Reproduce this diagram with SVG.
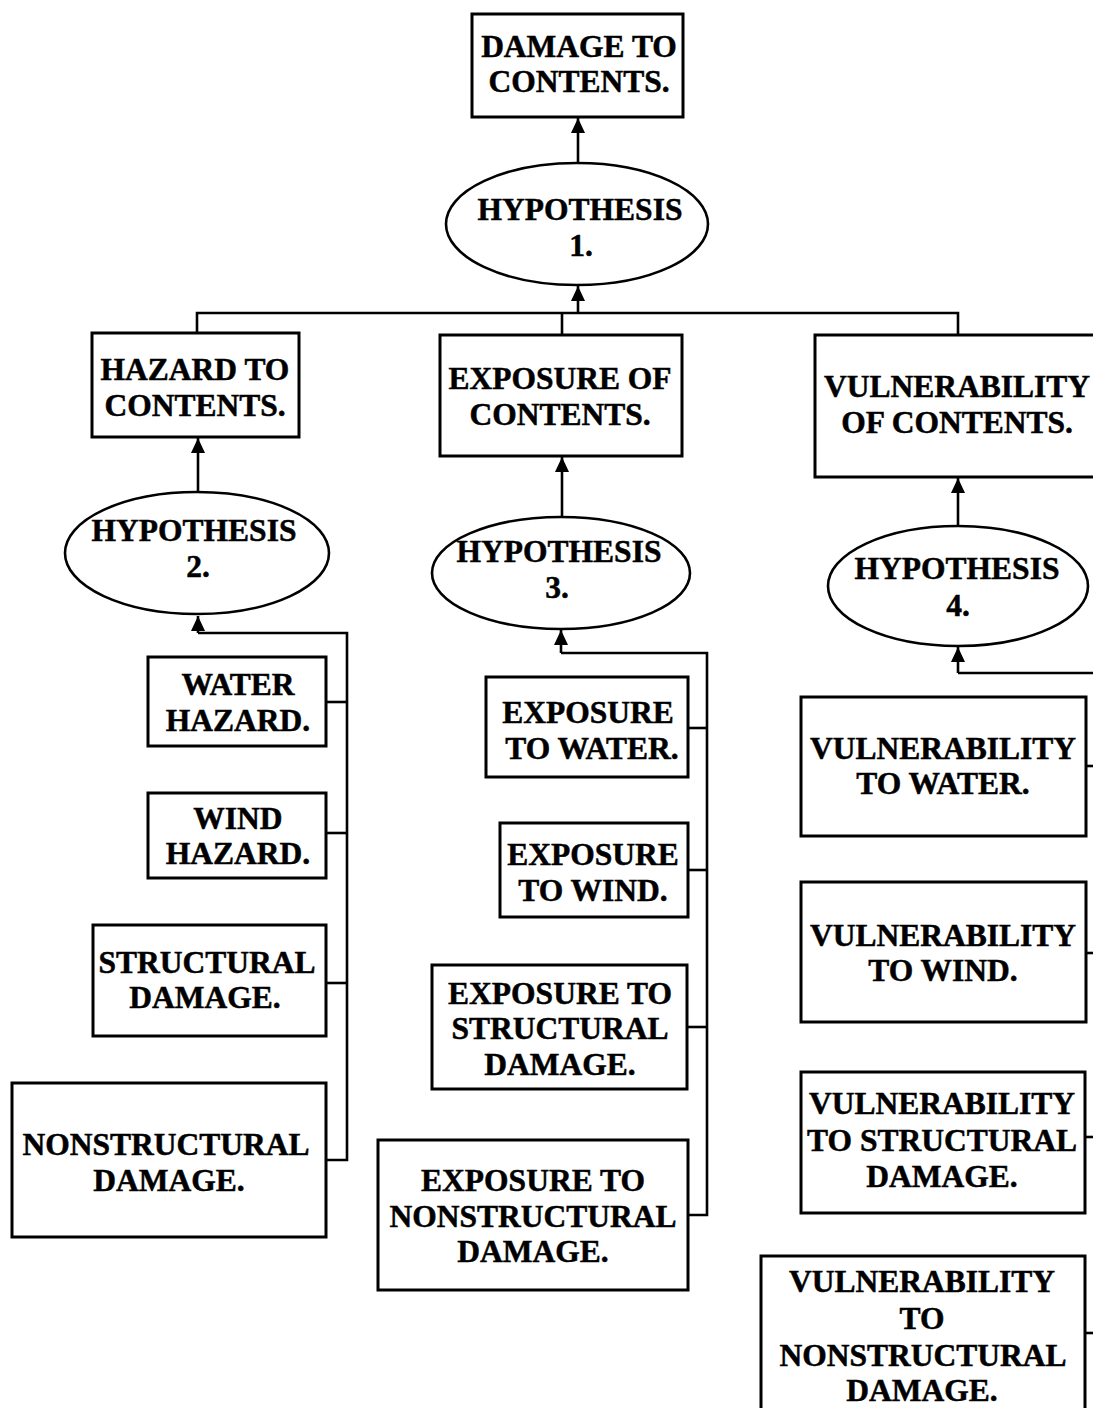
<svg xmlns="http://www.w3.org/2000/svg" width="1093" height="1408" viewBox="0 0 1093 1408">
  <defs>
    <marker id="arrow" markerUnits="userSpaceOnUse" markerWidth="15" markerHeight="16" refX="15" refY="7" orient="auto">
      <path d="M0,0 L15,7 L0,14 Z" fill="#000"/>
    </marker>
    <style>
      .box { fill: #fff; stroke: #000; stroke-width: 3; }
      .ell { fill: #fff; stroke: #000; stroke-width: 2.6; }
      .wire { fill: none; stroke: #000; stroke-width: 2.6; }
      .arr { fill: none; stroke: #000; stroke-width: 2.6; marker-end: url(#arrow); }
      text { font-family: "Liberation Serif", "Times New Roman", serif; font-weight: bold; font-size: 31.5px; text-anchor: middle; fill: #000; stroke: #000; stroke-width: 0.5; }
    </style>
  </defs>

  <!-- connectors -->
  <g id="connectors">
    <!-- top level -->
    <line class="arr" x1="578" y1="163" x2="578" y2="118"/>
    <polyline class="wire" points="197,333 197,313 958,313 958,335"/>
    <line class="wire" x1="562" y1="313" x2="562" y2="335"/>
    <line class="arr" x1="578" y1="313" x2="578" y2="286"/>

    <!-- hazard branch -->
    <line class="arr" x1="198" y1="492" x2="198" y2="438"/>
    <polyline class="wire" points="198,633 347,633 347,1160 326,1160"/>
    <line class="arr" x1="198" y1="633" x2="198" y2="616"/>
    <line class="wire" x1="326" y1="702" x2="347" y2="702"/>
    <line class="wire" x1="326" y1="833" x2="347" y2="833"/>
    <line class="wire" x1="326" y1="983" x2="347" y2="983"/>

    <!-- exposure branch -->
    <line class="arr" x1="562" y1="518" x2="562" y2="457"/>
    <polyline class="wire" points="561,653 707,653 707,1215 688,1215"/>
    <line class="arr" x1="561" y1="653" x2="561" y2="630"/>
    <line class="wire" x1="688" y1="728" x2="707" y2="728"/>
    <line class="wire" x1="688" y1="870" x2="707" y2="870"/>
    <line class="wire" x1="687" y1="1027" x2="707" y2="1027"/>

    <!-- vulnerability branch -->
    <line class="arr" x1="958" y1="526" x2="958" y2="478"/>
    <polyline class="wire" points="958,673 1100,673 1100,1333"/>
    <line class="arr" x1="958" y1="673" x2="958" y2="647"/>
    <line class="wire" x1="1086" y1="766" x2="1100" y2="766"/>
    <line class="wire" x1="1086" y1="953" x2="1100" y2="953"/>
    <line class="wire" x1="1085" y1="1137" x2="1100" y2="1137"/>
    <line class="wire" x1="1085" y1="1333" x2="1100" y2="1333"/>
  </g>

  <!-- top -->
  <g id="damage-to-contents">
    <rect class="box" x="472" y="14" width="211" height="103"/>
    <text x="579" y="57">DAMAGE TO</text>
    <text x="579" y="92">CONTENTS.</text>
  </g>
  <g id="hypothesis-1">
    <ellipse class="ell" cx="577" cy="224" rx="131" ry="61"/>
    <text x="580" y="220">HYPOTHESIS</text>
    <text x="581" y="256">1.</text>
  </g>

  <!-- hazard column -->
  <g id="hazard-to-contents">
    <rect class="box" x="92" y="333" width="207" height="104"/>
    <text x="195" y="380">HAZARD TO</text>
    <text x="195" y="416">CONTENTS.</text>
  </g>
  <g id="hypothesis-2">
    <ellipse class="ell" cx="197" cy="553" rx="132" ry="61"/>
    <text x="194" y="541">HYPOTHESIS</text>
    <text x="198" y="577">2.</text>
  </g>
  <g id="water-hazard">
    <rect class="box" x="148" y="657" width="178" height="89"/>
    <text x="238" y="695">WATER</text>
    <text x="238" y="731">HAZARD.</text>
  </g>
  <g id="wind-hazard">
    <rect class="box" x="148" y="793" width="178" height="85"/>
    <text x="238" y="829">WIND</text>
    <text x="238" y="864">HAZARD.</text>
  </g>
  <g id="structural-damage">
    <rect class="box" x="93" y="925" width="233" height="111"/>
    <text x="207" y="973">STRUCTURAL</text>
    <text x="205" y="1008">DAMAGE.</text>
  </g>
  <g id="nonstructural-damage">
    <rect class="box" x="12" y="1083" width="314" height="154"/>
    <text x="166" y="1155">NONSTRUCTURAL</text>
    <text x="169" y="1191">DAMAGE.</text>
  </g>

  <!-- exposure column -->
  <g id="exposure-of-contents">
    <rect class="box" x="440" y="335" width="242" height="121"/>
    <text x="560" y="389">EXPOSURE OF</text>
    <text x="560" y="425">CONTENTS.</text>
  </g>
  <g id="hypothesis-3">
    <ellipse class="ell" cx="561" cy="573" rx="129" ry="56"/>
    <text x="559" y="562">HYPOTHESIS</text>
    <text x="557" y="598">3.</text>
  </g>
  <g id="exposure-to-water">
    <rect class="box" x="486" y="677" width="202" height="100"/>
    <text x="588" y="723">EXPOSURE</text>
    <text x="592" y="759">TO WATER.</text>
  </g>
  <g id="exposure-to-wind">
    <rect class="box" x="500" y="823" width="188" height="94"/>
    <text x="593" y="865">EXPOSURE</text>
    <text x="593" y="901">TO WIND.</text>
  </g>
  <g id="exposure-to-structural-damage">
    <rect class="box" x="432" y="965" width="255" height="124"/>
    <text x="560" y="1004">EXPOSURE TO</text>
    <text x="560" y="1039">STRUCTURAL</text>
    <text x="560" y="1075">DAMAGE.</text>
  </g>
  <g id="exposure-to-nonstructural-damage">
    <rect class="box" x="378" y="1140" width="310" height="150"/>
    <text x="533" y="1191">EXPOSURE TO</text>
    <text x="533" y="1227">NONSTRUCTURAL</text>
    <text x="533" y="1262">DAMAGE.</text>
  </g>

  <!-- vulnerability column -->
  <g id="vulnerability-of-contents">
    <rect class="box" x="815" y="335" width="290" height="142"/>
    <text x="957" y="397">VULNERABILITY</text>
    <text x="957" y="433">OF CONTENTS.</text>
  </g>
  <g id="hypothesis-4">
    <ellipse class="ell" cx="958" cy="586" rx="130" ry="60"/>
    <text x="957" y="579">HYPOTHESIS</text>
    <text x="958" y="616">4.</text>
  </g>
  <g id="vulnerability-to-water">
    <rect class="box" x="801" y="697" width="285" height="139"/>
    <text x="943" y="759">VULNERABILITY</text>
    <text x="943" y="794">TO WATER.</text>
  </g>
  <g id="vulnerability-to-wind">
    <rect class="box" x="801" y="882" width="285" height="140"/>
    <text x="943" y="946">VULNERABILITY</text>
    <text x="943" y="981">TO WIND.</text>
  </g>
  <g id="vulnerability-to-structural-damage">
    <rect class="box" x="801" y="1072" width="284" height="141"/>
    <text x="942" y="1114">VULNERABILITY</text>
    <text x="942" y="1151">TO STRUCTURAL</text>
    <text x="942" y="1187">DAMAGE.</text>
  </g>
  <g id="vulnerability-to-nonstructural-damage">
    <rect class="box" x="761" y="1256" width="324" height="160"/>
    <text x="922" y="1292">VULNERABILITY</text>
    <text x="922" y="1329">TO</text>
    <text x="923" y="1366">NONSTRUCTURAL</text>
    <text x="922" y="1401">DAMAGE.</text>
  </g>
</svg>
